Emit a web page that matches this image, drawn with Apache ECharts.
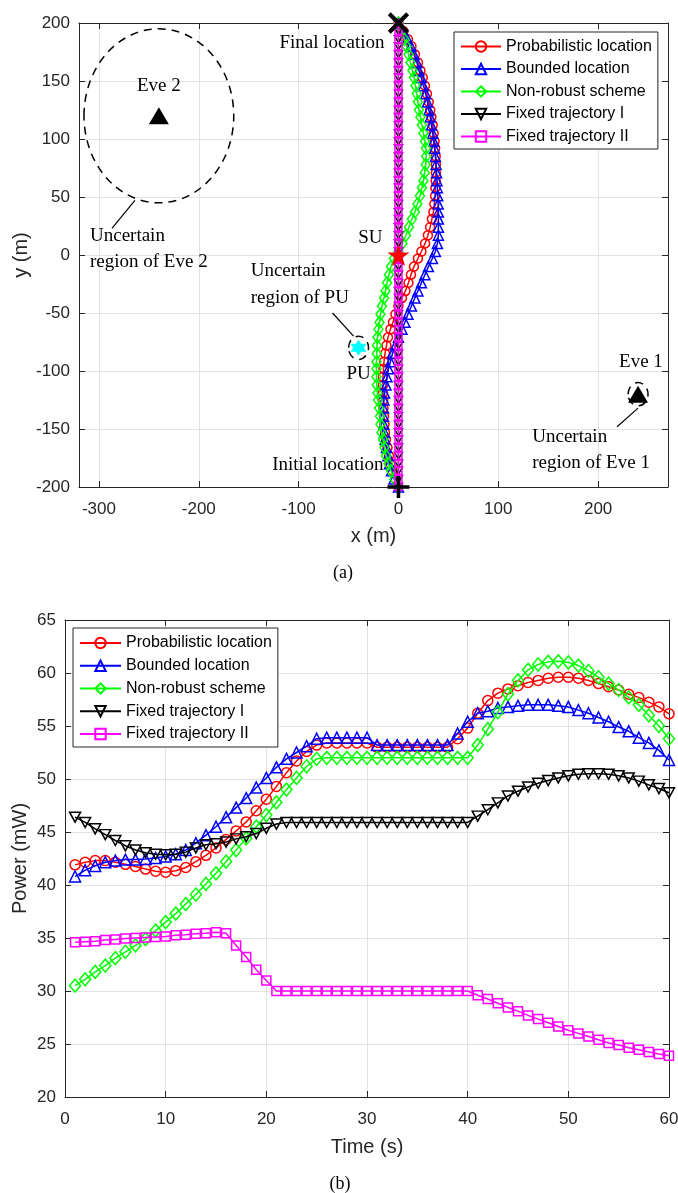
<!DOCTYPE html>
<html>
<head>
<meta charset="utf-8">
<script src="https://cdn.jsdelivr.net/npm/echarts@6/dist/echarts.min.js"></script>
<style>
html, body { margin: 0; padding: 0; background: #fff; }
#chart { width: 678px; height: 1193px; }
</style>
</head>
<body>
<div id="chart"></div>
<script>
// ---- (a) trajectories (metres) ----
const trajY = [-200, -193, -186, -180, -173, -166, -159, -153, -146, -139,
    -132, -125, -119, -112, -105, -98, -92, -85, -78, -71,
    -64, -58, -51, -44, -37, -31, -24, -17, -10, -3,
    3, 10, 17, 24, 31, 37, 44, 51, 58, 64,
    71, 78, 85, 92, 98, 105, 112, 119, 125, 132,
    139, 146, 153, 159, 166, 173, 180, 186, 193, 200];
const probX = [0, -3, -6, -8, -9.5, -11, -12.5, -13.5, -14, -14.5,
    -15, -15.3, -15.5, -15.5, -15.5, -15, -14.5, -13.5, -12, -10.5,
    -8, -5.5, -3, 0, 3.5, 7, 10, 12.5, 15.5, 19.5,
    23, 26.7, 29.5, 31.7, 33.5, 35, 36, 36.7, 37, 37.3,
    37.5, 37.5, 37.3, 36.8, 36.2, 35.3, 34.3, 33, 31.8, 30.3,
    28.5, 26.5, 24.3, 22, 19.5, 16.5, 13, 9.5, 5, 0];
const boundX = [0, -4.5, -7, -9, -10.5, -12, -13.3, -14, -14.7, -15,
    -15, -14.5, -13.8, -12.5, -11.5, -10, -8, -6, -3, 0,
    3.5, 6.5, 9.5, 13, 16.5, 19.5, 23, 26.5, 30, 34,
    37, 39, 40, 40, 40, 40, 39.8, 39.4, 39, 38.6,
    38.2, 37.7, 37, 36.2, 35.4, 34.3, 33, 31.8, 30.5, 29,
    27.3, 25, 22.8, 20.5, 18.5, 15.5, 12.5, 9, 5, 0];
const nonRobustX = [0, -4, -7.5, -10, -12.5, -14, -15.5, -17, -18, -18.5,
    -19.5, -20.5, -21, -21.7, -22, -22, -22, -21.7, -21.5, -21,
    -20, -19, -18, -16.5, -14.5, -13, -11.5, -9.5, -7.5, -4.5,
    0, 4, 7.5, 10.5, 13.5, 16.5, 19, 21.5, 23.5, 25,
    26.3, 27.3, 27.8, 27.5, 26.5, 25, 23.5, 22, 20.5, 19.5,
    18.3, 17, 15.5, 14, 12, 10, 8, 5.8, 3.5, 0];
const fixedIX = [0, 0, 0, 0, 0, 0, 0, 0, 0, 0, 0, 0, 0, 0, 0, 0, 0, 0, 0, 0,
    0, 0, 0, 0, 0, 0, 0, 0, 0, 0, 0, 0, 0, 0, 0, 0, 0, 0, 0, 0,
    0, 0, 0, 0, 0, 0, 0, 0, 0, 0, 0, 0, 0, 0, 0, 0, 0, 0, 0, 0];
const fixedIIX = [0, 0, 0, 0, 0, 0, 0, 0, 0, 0, 0, 0, 0, 0, 0, 0, 0, 0, 0, 0,
    0, 0, 0, 0, 0, 0, 0, 0, 0, 0, 0, 0, 0, 0, 0, 0, 0, 0, 0, 0,
    0, 0, 0, 0, 0, 0, 0, 0, 0, 0, 0, 0, 0, 0, 0, 0, 0, 0, 0, 0];

const startPos = [[0, -200]];
const endPos = [[0, 200]];
const suPos = [[0, 0]];
const puPos = [[-40, -80]];
const evePos = [[-240, 120], [240, -120]];
// centre x, centre y, radius
const uncertainRegions = [[-240, 120, 75], [240, -120, 10], [-40, -80, 10]];
const xTicksA = [-300, -200, -100, 0, 100, 200];

// text, x, y, align
const notes = [
    ['Final location', -14, 183, 'right'],
    ['Initial location', -15, -181, 'right'],
    ['SU', -16, 15, 'right'],
    ['PU', -40, -103, 'center'],
    ['Uncertain', -148, -14, 'left'],
    ['region of PU', -148, -37, 'left'],
    ['Eve 2', -240, 146, 'center'],
    ['Uncertain', -309, 16, 'left'],
    ['region of Eve 2', -309, -6, 'left'],
    ['Eve 1', 221, -92, 'left'],
    ['Uncertain', 134, -157, 'left'],
    ['region of Eve 1', 134, -179, 'left']
];
const leaders = [[-66, -50, -45, -70], [-287, 23, -264, 47], [219, -148, 240, -132]];

// ---- (b) transmit power ----
const timeS = [1, 2, 3, 4, 5, 6, 7, 8, 9, 10, 11, 12, 13, 14, 15, 16, 17, 18, 19, 20,
    21, 22, 23, 24, 25, 26, 27, 28, 29, 30, 31, 32, 33, 34, 35, 36, 37, 38, 39, 40,
    41, 42, 43, 44, 45, 46, 47, 48, 49, 50, 51, 52, 53, 54, 55, 56, 57, 58, 59, 60];
const probPower = [41.9, 42.15, 42.3, 42.3, 42.15, 41.95, 41.75, 41.5, 41.3, 41.2,
    41.35, 41.65, 42.2, 42.8, 43.5, 44.3, 45.1, 45.95, 47.0, 48.1,
    49.3, 50.6, 51.7, 52.6, 53.2, 53.4, 53.4, 53.4, 53.4, 53.4,
    53.0, 53.0, 53.0, 53.0, 53.0, 53.0, 53.0, 53.0, 53.8, 54.8,
    56.2, 57.4, 58.1, 58.5, 58.8, 59.1, 59.3, 59.5, 59.6, 59.6,
    59.5, 59.3, 59.0, 58.7, 58.4, 58.0, 57.7, 57.25, 56.8, 56.15];
const boundPower = [40.8, 41.4, 41.8, 42.15, 42.3, 42.4, 42.4, 42.45, 42.55, 42.7,
    42.9, 43.3, 43.95, 44.7, 45.5, 46.4, 47.3, 48.2, 49.2, 50.1,
    51.1, 51.9, 52.5, 53.1, 53.8, 53.9, 53.9, 53.9, 53.9, 53.9,
    53.2, 53.2, 53.2, 53.2, 53.2, 53.2, 53.2, 53.2, 54.3, 55.4,
    56.2, 56.4, 56.7, 56.8, 56.9, 57.0, 57.0, 57.0, 56.9, 56.8,
    56.5, 56.2, 55.8, 55.4, 54.9, 54.5, 53.9, 53.4, 52.7, 51.8];
const nonRobustPower = [30.5, 31.1, 31.8, 32.4, 33.1, 33.7, 34.3, 34.9, 35.7, 36.5,
    37.3, 38.2, 39.1, 40.1, 41.1, 42.2, 43.3, 44.4, 45.5, 46.6,
    47.8, 49.0, 50.1, 51.2, 51.9, 52.0, 52.0, 52.0, 52.0, 52.0,
    52.0, 52.0, 52.0, 52.0, 52.0, 52.0, 52.0, 52.0, 52.0, 52.0,
    53.2, 54.7, 56.3, 58.0, 59.3, 60.3, 60.8, 61.05, 61.1, 61.0,
    60.7, 60.2, 59.6, 59.0, 58.4, 57.7, 57.0, 56.0, 55.0, 53.8];
const fixedIPower = [46.4, 45.9, 45.3, 44.75, 44.2, 43.7, 43.3, 43.05, 42.9, 42.85,
    42.9, 43.1, 43.5, 43.8, 43.9, 44.05, 44.35, 44.55, 44.85, 45.35,
    45.75, 45.9, 45.9, 45.9, 45.9, 45.9, 45.9, 45.9, 45.9, 45.9,
    45.9, 45.9, 45.9, 45.9, 45.9, 45.9, 45.9, 45.9, 45.9, 45.9,
    46.5, 47.1, 47.75, 48.4, 48.85, 49.25, 49.6, 49.85, 50.1, 50.3,
    50.45, 50.5, 50.5, 50.45, 50.3, 50.1, 49.8, 49.45, 49.1, 48.7];
const fixedIIPower = [34.6, 34.65, 34.7, 34.8, 34.85, 34.95, 35.0, 35.05, 35.1, 35.15,
    35.25, 35.3, 35.4, 35.45, 35.55, 35.45, 34.3, 33.2, 32.0, 31.0,
    30.0, 30.0, 30.0, 30.0, 30.0, 30.0, 30.0, 30.0, 30.0, 30.0,
    30.0, 30.0, 30.0, 30.0, 30.0, 30.0, 30.0, 30.0, 30.0, 30.0,
    29.6, 29.25, 28.85, 28.45, 28.1, 27.7, 27.35, 27.0, 26.65, 26.3,
    26.0, 25.7, 25.4, 25.1, 24.9, 24.65, 24.45, 24.25, 24.05, 23.9];

const seriesNames = ['Probabilistic location', 'Bounded location', 'Non-robust scheme',
    'Fixed trajectory I', 'Fixed trajectory II'];

const SANS = '"Liberation Sans", Arial, sans-serif';
const SERIF = '"Liberation Serif", "Times New Roman", serif';
const AXIS_COLOR = '#262626';
const GRID_COLOR = '#e3e3e3';
const DOWN_TRI = 'path://M0,0 L10,0 L5,8.66 Z';
const STAR5 = 'path://M50,0 L61,35 L98,35 L68,57 L79,91 L50,70 L21,91 L32,57 L2,35 L39,35 Z';
const STAR6 = 'path://M50,0 L64,25 L93,25 L79,50 L93,75 L64,75 L50,100 L36,75 L7,75 L21,50 L7,25 L36,25 Z';
const PLUS = 'path://M42,0 H58 V42 H100 V58 H58 V100 H42 V58 H0 V42 H42 Z';

let chartDom = document.getElementById('chart');
let myChart = echarts.init(chartDom);

const styles = [
    {color: '#ff0000', symbol: 'circle', sizeA: 9, sizeB: 10},
    {color: '#0000ff', symbol: 'triangle', sizeA: 10, sizeB: 11},
    {color: '#00ff00', symbol: 'diamond', sizeA: [9, 12], sizeB: [11, 13]},
    {color: '#000000', symbol: DOWN_TRI, sizeA: [8, 7], sizeB: [11, 10]},
    {color: '#ff00ff', symbol: 'rect', sizeA: 7, sizeB: 9}
];

function pairs(xs, ys) {
    return xs.map((x, i) => [x, ys[i]]);
}

function traceSeries(idx, data, gridIndex) {
    let s = styles[idx];
    return {
        name: seriesNames[idx],
        type: 'line',
        xAxisIndex: gridIndex * 2,
        yAxisIndex: gridIndex * 2,
        data: data,
        symbol: s.symbol,
        symbolSize: gridIndex === 0 ? s.sizeA : s.sizeB,
        showSymbol: true,
        showAllSymbol: true,
        lineStyle: {color: s.color, width: 1.5},
        itemStyle: {color: 'rgba(255,255,255,0)', borderColor: s.color, borderWidth: 1.5},
        emphasis: {disabled: true},
        z: 3 + idx
    };
}

function markerSeries(name, data, symbol, size, color, rotate) {
    return {
        name: name,
        type: 'scatter',
        xAxisIndex: 0,
        yAxisIndex: 0,
        data: data,
        symbol: symbol,
        symbolSize: size,
        symbolRotate: rotate || 0,
        itemStyle: {color: color, opacity: 1},
        emphasis: {disabled: true},
        z: 20
    };
}

function bottomAxis(gridIndex, min, max, name, nameGap, extra) {
    return Object.assign({
        gridIndex: gridIndex,
        type: 'value',
        min: min,
        max: max,
        position: 'bottom',
        name: name,
        nameLocation: 'middle',
        nameGap: nameGap,
        nameTextStyle: {fontFamily: SANS, fontSize: 20, color: AXIS_COLOR},
        axisLine: {show: true, onZero: false, lineStyle: {color: AXIS_COLOR, width: 1}},
        axisTick: {show: true, inside: true, length: 6, lineStyle: {color: AXIS_COLOR}},
        axisLabel: {margin: 14, color: AXIS_COLOR, fontFamily: SANS, fontSize: 17},
        splitLine: {show: true, lineStyle: {color: GRID_COLOR, width: 1}}
    }, extra);
}

function topAxis(gridIndex, min, max, extra) {
    return Object.assign({
        gridIndex: gridIndex,
        type: 'value',
        min: min,
        max: max,
        position: 'top',
        axisLine: {show: true, onZero: false, lineStyle: {color: AXIS_COLOR, width: 1}},
        axisTick: {show: true, inside: true, length: 6, lineStyle: {color: AXIS_COLOR}},
        axisLabel: {show: false},
        splitLine: {show: false}
    }, extra);
}

function leftAxis(gridIndex, min, max, interval, name, nameGap) {
    return {
        gridIndex: gridIndex,
        type: 'value',
        min: min,
        max: max,
        interval: interval,
        position: 'left',
        name: name,
        nameLocation: 'middle',
        nameGap: nameGap,
        nameMoveOverlap: false,
        nameTextStyle: {fontFamily: SANS, fontSize: 20, color: AXIS_COLOR},
        axisLine: {show: true, onZero: false, lineStyle: {color: AXIS_COLOR, width: 1}},
        axisTick: {show: true, inside: true, length: 6, lineStyle: {color: AXIS_COLOR}},
        axisLabel: {margin: 9, color: AXIS_COLOR, fontFamily: SANS, fontSize: 17},
        splitLine: {show: true, lineStyle: {color: GRID_COLOR, width: 1}}
    };
}

function rightAxis(gridIndex, min, max, interval) {
    return {
        gridIndex: gridIndex,
        type: 'value',
        min: min,
        max: max,
        interval: interval,
        position: 'right',
        axisLine: {show: true, onZero: false, lineStyle: {color: AXIS_COLOR, width: 1}},
        axisTick: {show: true, inside: true, length: 6, lineStyle: {color: AXIS_COLOR}},
        axisLabel: {show: false},
        splitLine: {show: false}
    };
}

function legendBox(left, top, itemWidth, itemGap, padding) {
    return {
        data: seriesNames,
        orient: 'vertical',
        left: left,
        top: top,
        itemWidth: itemWidth,
        itemHeight: 13,
        itemGap: itemGap,
        padding: padding,
        backgroundColor: '#ffffff',
        borderColor: AXIS_COLOR,
        borderWidth: 1,
        borderRadius: 0,
        selectedMode: false,
        textStyle: {fontFamily: SANS, fontSize: 16, color: '#000', lineHeight: 18}
    };
}

let seriesList = [];
// (a)
seriesList.push(traceSeries(0, pairs(probX, trajY), 0));
seriesList.push(traceSeries(1, pairs(boundX, trajY), 0));
seriesList.push(traceSeries(2, pairs(nonRobustX, trajY), 0));
seriesList.push(traceSeries(3, pairs(fixedIX, trajY), 0));
seriesList.push(traceSeries(4, pairs(fixedIIX, trajY), 0));
seriesList.push({
    name: 'regions',
    type: 'custom',
    xAxisIndex: 0,
    yAxisIndex: 0,
    data: uncertainRegions,
    clip: false,
    z: 15,
    renderItem: function (params, api) {
        let c = api.coord([api.value(0), api.value(1)]);
        let s = api.size([api.value(2), api.value(2)]);
        return {
            type: 'ellipse',
            shape: {cx: c[0], cy: c[1], rx: s[0], ry: s[1]},
            style: {fill: 'none', stroke: '#000', lineWidth: 1.5, lineDash: [8, 6]}
        };
    }
});
seriesList.push({
    name: 'leaders',
    type: 'custom',
    xAxisIndex: 0,
    yAxisIndex: 0,
    data: leaders,
    clip: false,
    z: 15,
    renderItem: function (params, api) {
        let p1 = api.coord([api.value(0), api.value(1)]);
        let p2 = api.coord([api.value(2), api.value(3)]);
        return {
            type: 'line',
            shape: {x1: p1[0], y1: p1[1], x2: p2[0], y2: p2[1]},
            style: {stroke: '#000', lineWidth: 1.2}
        };
    }
});
seriesList.push({
    name: 'notes',
    type: 'custom',
    xAxisIndex: 0,
    yAxisIndex: 0,
    data: notes.map(n => [n[1], n[2]]),
    clip: false,
    z: 25,
    renderItem: function (params, api) {
        let n = notes[params.dataIndex];
        let p = api.coord([n[1], n[2]]);
        return {
            type: 'text',
            x: p[0],
            y: p[1],
            style: {
                text: n[0], fill: '#000', fontFamily: SERIF, fontSize: 19,
                align: n[3], verticalAlign: 'middle'
            }
        };
    }
});
seriesList.push(markerSeries('Eve', evePos, 'triangle', [20, 17], '#000'));
seriesList.push(markerSeries('PU', puPos, STAR6, 16, '#00ffff'));
seriesList.push(markerSeries('SU', suPos, STAR5, 22, '#ff0000'));
seriesList.push(markerSeries('Initial', startPos, PLUS, 22, '#000'));
seriesList.push(markerSeries('Final', endPos, PLUS, 26, '#000', 45));
// (b)
seriesList.push(traceSeries(0, pairs(timeS, probPower), 1));
seriesList.push(traceSeries(1, pairs(timeS, boundPower), 1));
seriesList.push(traceSeries(2, pairs(timeS, nonRobustPower), 1));
seriesList.push(traceSeries(3, pairs(timeS, fixedIPower), 1));
seriesList.push(traceSeries(4, pairs(timeS, fixedIIPower), 1));

let option = {
    animation: false,
    backgroundColor: '#ffffff',
    textStyle: {fontFamily: SANS},
    grid: [
        {left: 79, top: 23, width: 589, height: 464, outerBoundsMode: 'none'},
        {left: 65, top: 620, width: 604, height: 477, outerBoundsMode: 'none'}
    ],
    xAxis: [
        bottomAxis(0, -320, 270, 'x (m)', 39, {
            axisTick: {show: true, inside: true, length: 6, customValues: xTicksA, lineStyle: {color: AXIS_COLOR}},
            axisLabel: {margin: 14, color: AXIS_COLOR, fontFamily: SANS, fontSize: 17, customValues: xTicksA}
        }),
        topAxis(0, -320, 270, {
            axisTick: {show: true, inside: true, length: 6, customValues: xTicksA, lineStyle: {color: AXIS_COLOR}}
        }),
        bottomAxis(1, 0, 60, 'Time (s)', 40, {interval: 10}),
        topAxis(1, 0, 60, {interval: 10})
    ],
    yAxis: [
        leftAxis(0, -200, 200, 50, 'y (m)', 48),
        rightAxis(0, -200, 200, 50),
        leftAxis(1, 20, 65, 5, 'Power (mW)', 35),
        rightAxis(1, 20, 65, 5)
    ],
    legend: [
        legendBox(454, 32, 40, 4.5, [5.5, 6, 3.5, 6]),
        legendBox(73, 628, 41, 4.75, [6, 6, 4, 6])
    ],
    graphic: [
        {type: 'text', x: 343, y: 573, style: {text: '(a)', fill: '#000', fontFamily: SERIF, fontSize: 18, align: 'center', verticalAlign: 'middle'}},
        {type: 'text', x: 340, y: 1184, style: {text: '(b)', fill: '#000', fontFamily: SERIF, fontSize: 18, align: 'center', verticalAlign: 'middle'}}
    ],
    series: seriesList
};
option && myChart.setOption(option);
</script>
</body>
</html>
